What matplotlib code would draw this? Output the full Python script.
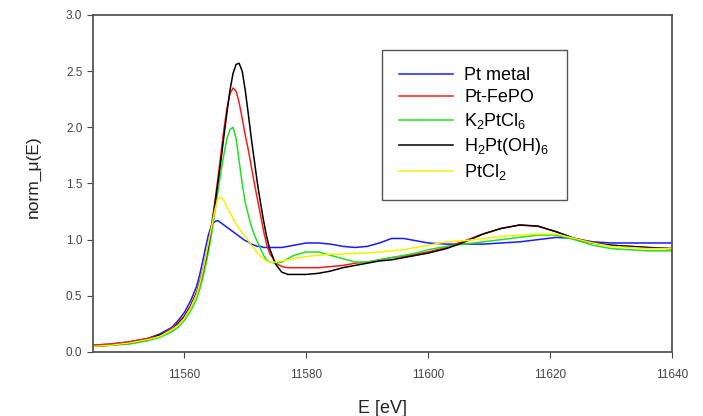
import matplotlib
matplotlib.use("Agg")
import matplotlib.pyplot as plt

plt.rcParams["font.family"] = ["Liberation Sans", "DejaVu Sans"]
plt.rcParams["mathtext.fontset"] = "custom"
plt.rcParams["mathtext.rm"] = "Liberation Sans"
plt.rcParams["mathtext.it"] = "Liberation Sans:italic"

# energy grid (eV), shared by all spectra
energy = [11545, 11548, 11551, 11554, 11556, 11558, 11559, 11560, 11561, 11562,
          11562.5, 11563, 11563.5, 11564,
          11564.5, 11565, 11565.5, 11566, 11566.5, 11567, 11567.5, 11568, 11568.5, 11569,
          11569.5, 11570, 11570.5, 11571, 11571.5, 11572, 11572.5, 11573, 11573.5, 11574,
          11575, 11576, 11577, 11578,
          11580, 11582, 11584, 11586, 11588, 11590, 11592, 11594, 11596, 11598, 11600,
          11603, 11606, 11609, 11612, 11615, 11618, 11621, 11624, 11627, 11630, 11633, 11636,
          11640]

pt_metal = [0.06, 0.07, 0.09, 0.12, 0.16, 0.22, 0.28, 0.35, 0.45, 0.58,
            0.68, 0.80, 0.93, 1.05,
            1.13, 1.16, 1.17, 1.15, 1.13, 1.11, 1.09, 1.07, 1.05, 1.03,
            1.01, 0.99, 0.98, 0.96, 0.95, 0.94, 0.94, 0.93, 0.93, 0.93,
            0.93, 0.93, 0.94, 0.95,
            0.97, 0.97, 0.96, 0.94, 0.93, 0.94, 0.97, 1.01, 1.01, 0.99, 0.97,
            0.96, 0.96, 0.96, 0.97, 0.98, 1.00, 1.02, 1.01, 0.98, 0.97, 0.97, 0.97,
            0.97]

pt_fepo = [0.06, 0.07, 0.09, 0.12, 0.15, 0.21, 0.26, 0.32, 0.41, 0.53,
           0.62, 0.72, 0.84, 0.97,
           1.14, 1.33, 1.54, 1.76, 1.98, 2.17, 2.30, 2.35, 2.32, 2.22,
           2.08, 1.93, 1.80, 1.65, 1.50, 1.36, 1.22, 1.08, 0.96, 0.88,
           0.79, 0.76, 0.75, 0.75,
           0.75, 0.75, 0.76, 0.77, 0.79, 0.80, 0.82, 0.84, 0.85, 0.87, 0.89,
           0.93, 0.99, 1.05, 1.10, 1.13, 1.12, 1.07, 1.01, 0.97, 0.95, 0.94, 0.93,
           0.92]

k2ptcl6 = [0.05, 0.06, 0.07, 0.10, 0.13, 0.18, 0.22, 0.28, 0.36, 0.47,
           0.55, 0.65, 0.77, 0.90,
           1.06, 1.24, 1.42, 1.60, 1.76, 1.90, 1.98, 2.00, 1.90, 1.70,
           1.50, 1.33, 1.22, 1.12, 1.04, 0.98, 0.92, 0.86, 0.82, 0.80,
           0.79, 0.80, 0.83, 0.86,
           0.89, 0.89, 0.86, 0.83, 0.80, 0.80, 0.82, 0.84, 0.86, 0.88, 0.91,
           0.94, 0.96, 0.98, 1.00, 1.02, 1.04, 1.04, 1.00, 0.95, 0.92, 0.91, 0.90,
           0.90]

h2pt_oh6 = [0.05, 0.06, 0.08, 0.11, 0.15, 0.20, 0.25, 0.31, 0.40, 0.52,
            0.60, 0.70, 0.82, 0.95,
            1.12, 1.30, 1.50, 1.70, 1.92, 2.13, 2.33, 2.48, 2.56, 2.57,
            2.50, 2.33, 2.12, 1.90, 1.70, 1.50, 1.33, 1.17, 1.03, 0.92,
            0.78, 0.71, 0.69, 0.69,
            0.69, 0.70, 0.72, 0.75, 0.77, 0.79, 0.81, 0.82, 0.84, 0.86, 0.88,
            0.92, 0.98, 1.05, 1.10, 1.13, 1.12, 1.07, 1.01, 0.97, 0.95, 0.94, 0.93,
            0.92]

ptcl2 = [0.05, 0.06, 0.08, 0.11, 0.14, 0.20, 0.24, 0.30, 0.39, 0.51,
         0.60, 0.71, 0.84, 0.98,
         1.12, 1.26, 1.36, 1.38, 1.35, 1.29, 1.24, 1.19, 1.14, 1.10,
         1.06, 1.03, 0.99, 0.95, 0.92, 0.88, 0.85, 0.83, 0.81, 0.80,
         0.80, 0.81, 0.82, 0.83,
         0.85, 0.86, 0.87, 0.87, 0.88, 0.88, 0.89, 0.90, 0.91, 0.93, 0.95,
         0.98, 0.99, 1.01, 1.03, 1.04, 1.05, 1.05, 1.01, 0.97, 0.94, 0.93, 0.92,
         0.92]

series = [
    ("Pt metal", pt_metal, "#1a1aff"),
    ("Pt-FePO", pt_fepo, "#ff1a1a"),
    ("K$_2$PtCl$_6$", k2ptcl6, "#22e022"),
    ("H$_2$Pt(OH)$_6$", h2pt_oh6, "#000000"),
    ("PtCl$_2$", ptcl2, "#f2f200"),
]

x_ticks = [11560, 11580, 11600, 11620, 11640]
y_ticks = [0.0, 0.5, 1.0, 1.5, 2.0, 2.5, 3.0]

fig = plt.figure(figsize=(7.03, 4.16), dpi=100)
ax = fig.add_axes([0.132, 0.154, 0.824, 0.81])

for label, values, color in series:
    ax.plot(energy, values, color=color, lw=1.1, label=label)

ax.set_xlim(11545, 11640)
ax.set_ylim(0, 3.0)
ax.set_xticks(x_ticks)
ax.set_yticks(y_ticks)
ax.set_yticklabels([f"{v:.1f}" for v in y_ticks])
ax.tick_params(direction="out", length=4, labelsize=8.5, colors="#444444")
ax.tick_params(axis="x", pad=8)
for side in ax.spines.values():
    side.set_color("#555555")
    side.set_linewidth(1.3)

ax.set_xlabel("E [eV]", fontsize=13, color="#222222", labelpad=14)
ax.set_ylabel("norm_\u03bc(E)", fontsize=12.5, color="#222222")
ax.yaxis.set_label_coords(-0.09, 0.52)

leg = ax.legend(loc="upper left", bbox_to_anchor=(0.499, 0.896), fontsize=13,
                handlelength=3.0, labelspacing=0.28, borderpad=0.95,
                handletextpad=0.6, fancybox=False, framealpha=1,
                edgecolor="#555555", borderaxespad=0)
leg.get_frame().set_linewidth(1.0)

fig.savefig("out.png", dpi=100)
